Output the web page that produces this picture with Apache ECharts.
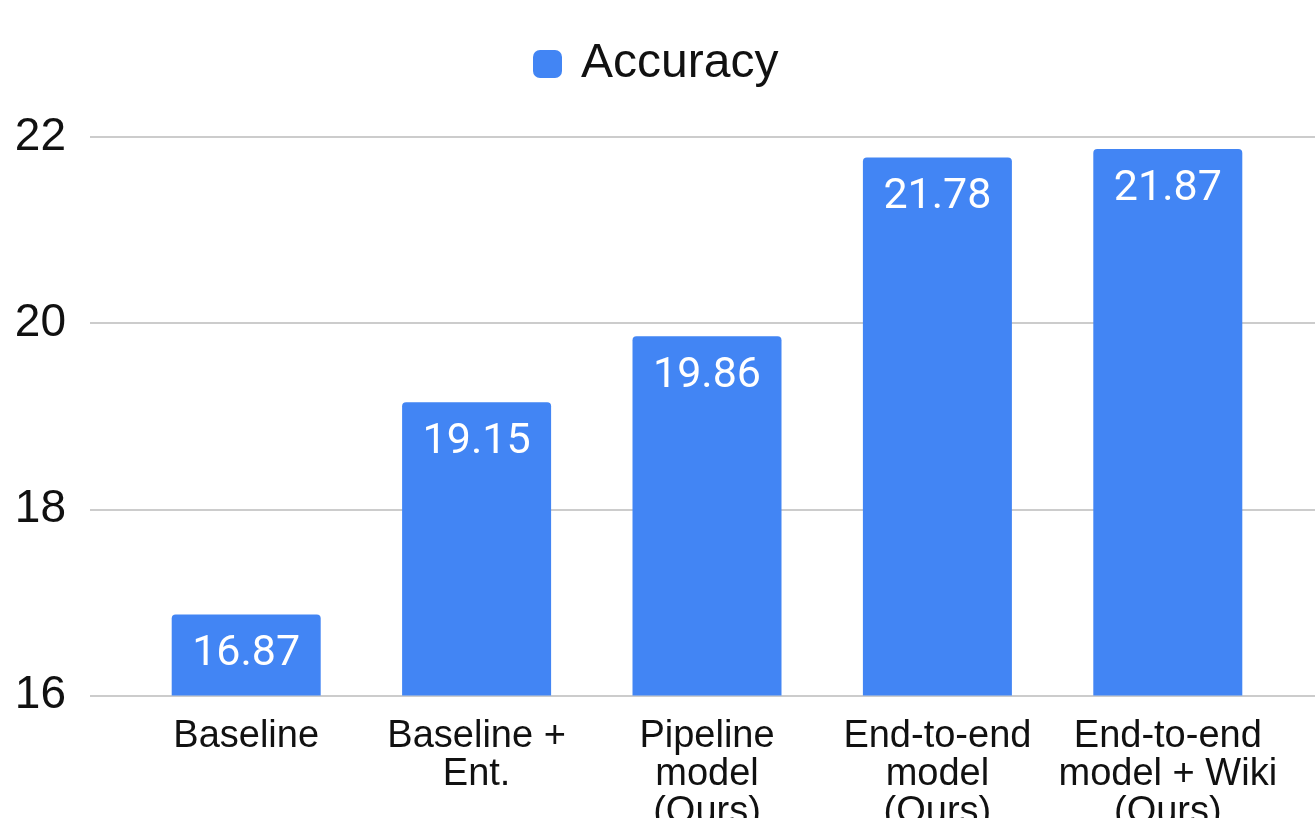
<!DOCTYPE html>
<html>
<head>
<meta charset="utf-8">
<script src="https://cdn.jsdelivr.net/npm/echarts@6/dist/echarts.min.js"></script>
<style>
html,body{margin:0;padding:0;background:#fff;}
#chart{width:1315px;height:818px;}
</style>
</head>
<body>
<div id="chart"></div>
<script>
const categories = ["Baseline", "Baseline +\nEnt.", "Pipeline\nmodel\n(Ours)", "End-to-end\nmodel\n(Ours)", "End-to-end\nmodel + Wiki\n(Ours)"];
const accuracy = [16.87, 19.15, 19.86, 21.78, 21.87];
const seriesName = "Accuracy";
const yMin = 16, yMax = 22, yStep = 2;

const chart = echarts.init(document.getElementById('chart'));
chart.setOption({
  animation: false,
  backgroundColor: '#ffffff',
  legend: {
    data: [seriesName],
    left: 533,
    top: 40,
    padding: 0,
    icon: 'roundRect',
    itemWidth: 29,
    itemHeight: 28,
    itemGap: 19,
    textStyle: { fontFamily: 'Liberation Sans', fontSize: 48, color: '#111', lineHeight: 48, padding: [0,0,0,14] }
  },
  grid: [
    { left: 90, right: 0, top: 137, bottom: 122.5, outerBoundsMode: 'none', containLabel: false },
    { left: 131, right: 32, top: 137, bottom: 122.5, outerBoundsMode: 'none', containLabel: false }
  ],
  xAxis: [
    { gridIndex: 0, type: 'category', data: [], show: false },
    {
      gridIndex: 1, type: 'category', data: categories,
      axisLine: { show: false }, axisTick: { show: false },
      axisLabel: { fontFamily: 'Liberation Sans', fontSize: 38, lineHeight: 38, color: '#111', margin: 22, interval: 0 }
    }
  ],
  yAxis: [
    {
      gridIndex: 0, type: 'value', min: yMin, max: yMax, interval: yStep,
      axisLine: { show: false }, axisTick: { show: false },
      axisLabel: { fontFamily: 'Liberation Sans', fontSize: 46, color: '#111', margin: 24 },
      splitLine: { show: true, lineStyle: { color: '#cccccc', width: 2 } }
    },
    {
      gridIndex: 1, type: 'value', min: yMin, max: yMax, interval: yStep, show: false,
      splitLine: { show: false }
    }
  ],
  series: [{
    name: seriesName,
    type: 'bar',
    xAxisIndex: 1, yAxisIndex: 1,
    data: accuracy,
    barWidth: 149,
    itemStyle: { color: '#4285F4', borderRadius: [4,4,0,0] },
    label: {
      show: true, position: 'insideTop', distance: 12,
      fontFamily: 'Roboto', fontSize: 43, lineHeight: 56, color: '#ffffff',
      formatter: p => p.value.toFixed(2)
    }
  }]
});
</script>
</body>
</html>
